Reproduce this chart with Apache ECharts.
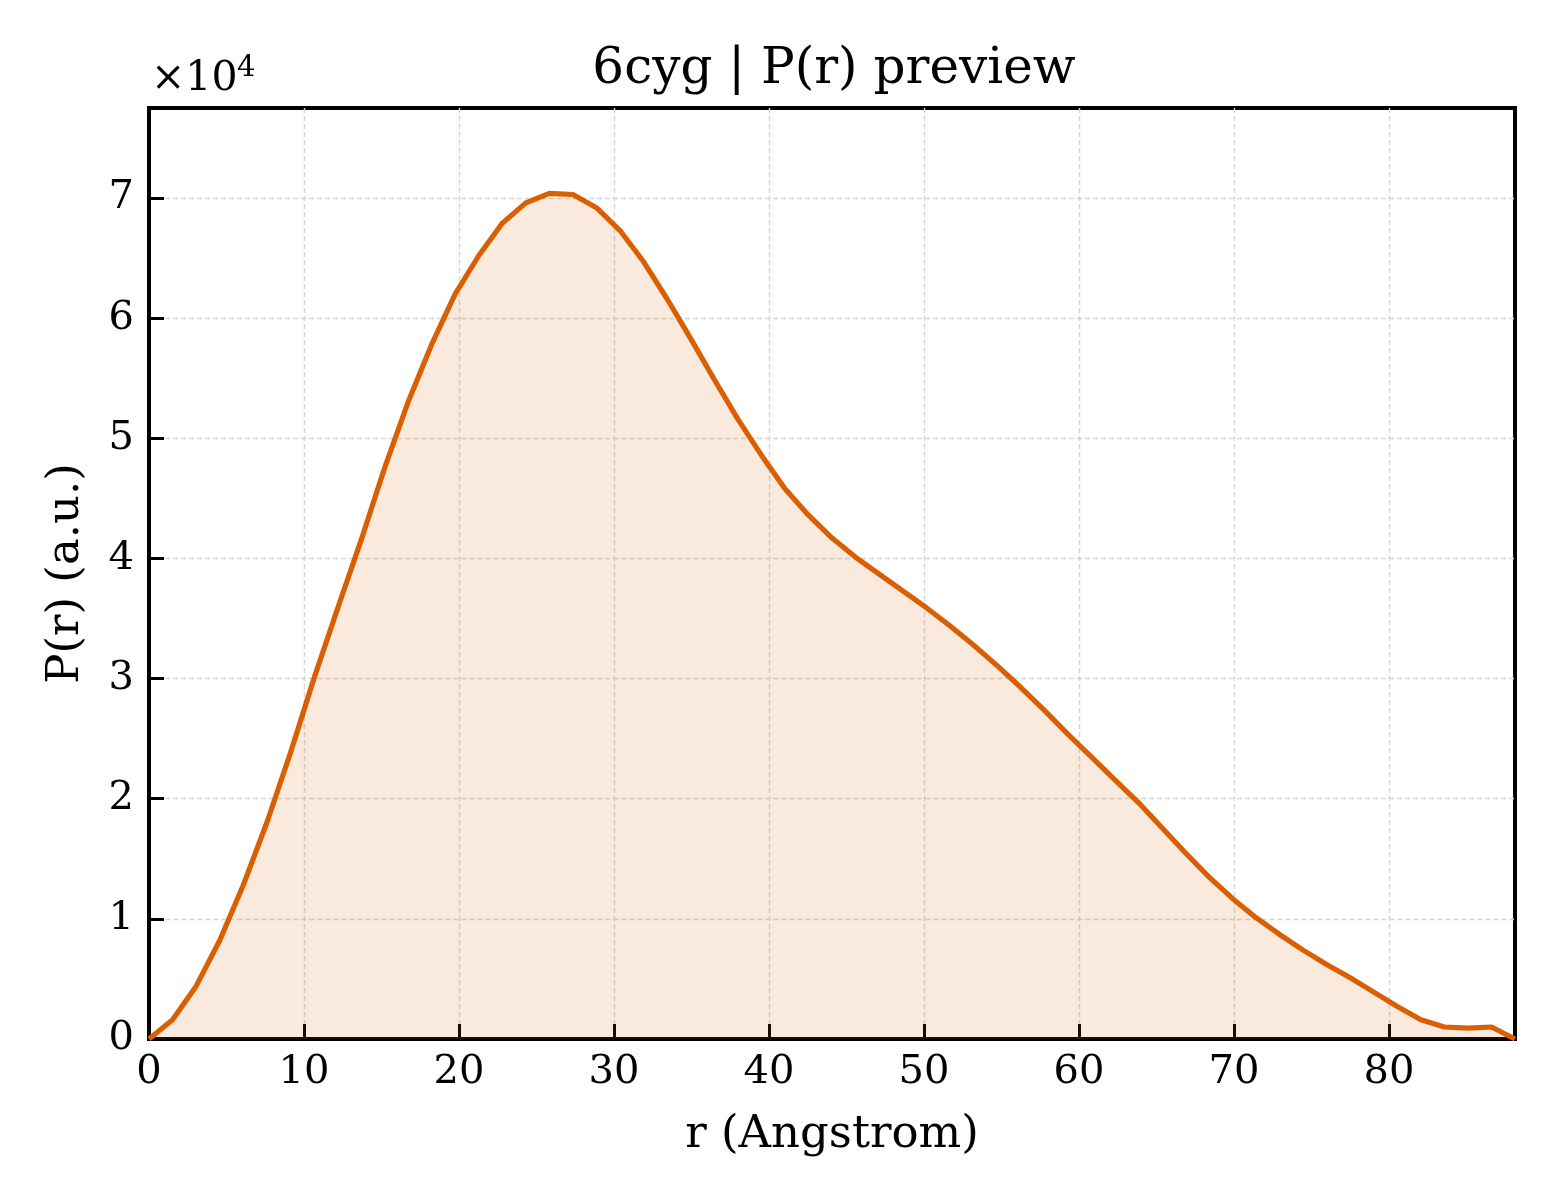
<!DOCTYPE html>
<html>
<head>
<meta charset="utf-8">
<title>6cyg | P(r) preview</title>
<script src="https://cdn.jsdelivr.net/npm/echarts@6/dist/echarts.min.js"></script>
<style>
  html, body { margin: 0; padding: 0; background: #fff; }
  #chart { width: 1560px; height: 1200px; }
</style>
</head>
<body>
<div id="chart"></div>
<script>
// r in Angstrom, P(r) in arbitrary units
var rValues = [0, 1.52, 3.04, 4.56, 6.08, 7.60, 9.12, 10.64, 12.16, 13.68, 15.19, 16.71, 18.23, 19.75,
    21.27, 22.79, 24.31, 25.83, 27.35, 28.87, 30.39, 31.91, 33.43, 34.95, 36.47, 37.99, 39.51, 41.03,
    42.55, 44.07, 45.59, 47.11, 48.63, 50.15, 51.67, 53.19, 54.70, 56.22, 57.74, 59.26, 60.78, 62.30,
    63.82, 65.34, 66.86, 68.38, 69.90, 71.42, 72.94, 74.46, 75.98, 77.50, 79.02, 80.54, 82.06, 83.58,
    85.10, 86.62, 88.13];
var prValues = [0, 1600, 4400, 8200, 12800, 18000, 23800, 30000, 35800, 41500, 47500, 53000, 57800, 62000,
    65200, 67900, 69600, 70400, 70300, 69200, 67300, 64700, 61600, 58300, 54900, 51600, 48600, 45800,
    43600, 41700, 40100, 38700, 37300, 35900, 34400, 32800, 31100, 29300, 27400, 25400, 23500, 21600,
    19700, 17600, 15500, 13500, 11700, 10100, 8700, 7400, 6200, 5100, 3900, 2700, 1600, 1000,
    900, 1000, 0];
var xTicks = [0, 10, 20, 30, 40, 50, 60, 70, 80];
var yTicks = [0, 1, 2, 3, 4, 5, 6, 7];

var chart = echarts.init(document.getElementById('chart'));
var font = 'DejaVu Serif';
var lineColor = '#d95f02';

var points = rValues.map(function(r, i) { return [r, prValues[i]]; });

var gridLine = { show: true, showMinLine: false, showMaxLine: false,
    lineStyle: { color: '#d6d6d6', width: 1.4, type: [5, 3] } };

var option = {
    backgroundColor: '#fff',
    animation: false,
    title: {
        text: '6cyg | P(r) preview',
        left: 829,
        top: 40,
        textAlign: 'center',
        textStyle: { fontFamily: font, fontSize: 50, fontWeight: 'normal', color: '#000' }
    },
    grid: {
        left: 149, right: 45, top: 108, bottom: 161,
        show: true, borderColor: '#000', borderWidth: 4, backgroundColor: 'transparent'
    },
    xAxis: {
        type: 'value',
        min: 0, max: 88.13, interval: 10,
        name: 'r (Angstrom)',
        nameLocation: 'middle',
        nameGap: 74,
        nameTextStyle: { fontFamily: font, fontSize: 45, color: '#000' },
        axisLine: { show: true, lineStyle: { color: '#000', width: 4 } },
        axisTick: { show: true, inside: true, length: 15, lineStyle: { color: '#000', width: 3 } },
        axisLabel: {
            margin: 14, fontFamily: font, fontSize: 40, color: '#000',
            formatter: function(v) { return xTicks.indexOf(v) >= 0 ? String(v) : ''; }
        },
        splitLine: gridLine
    },
    yAxis: {
        type: 'value',
        min: 0, max: 77500, interval: 10000,
        name: 'P(r) (a.u.)',
        nameLocation: 'middle',
        nameGap: 60,
        nameTextStyle: { fontFamily: font, fontSize: 45, color: '#000' },
        axisLine: { show: true, lineStyle: { color: '#000', width: 4 } },
        axisTick: { show: true, inside: true, length: 15, lineStyle: { color: '#000', width: 3 } },
        axisLabel: {
            margin: 15, fontFamily: font, fontSize: 40, color: '#000',
            formatter: function(v) {
                var t = v / 10000;
                return yTicks.indexOf(t) >= 0 ? String(t) : '';
            }
        },
        splitLine: gridLine
    },
    graphic: [
        { type: 'text', left: 151, top: 59, style: { text: '×10', font: '41px "DejaVu Serif"', fill: '#000' } },
        { type: 'text', left: 237, top: 54, style: { text: '4', font: '29px "DejaVu Serif"', fill: '#000' } }
    ],
    series: [{
        type: 'line',
        data: points,
        symbol: 'none',
        smooth: false,
        clip: true,
        lineStyle: { color: lineColor, width: 5.2 },
        areaStyle: { color: lineColor, opacity: 0.13 }
    }]
};

chart.setOption(option);
</script>
</body>
</html>
